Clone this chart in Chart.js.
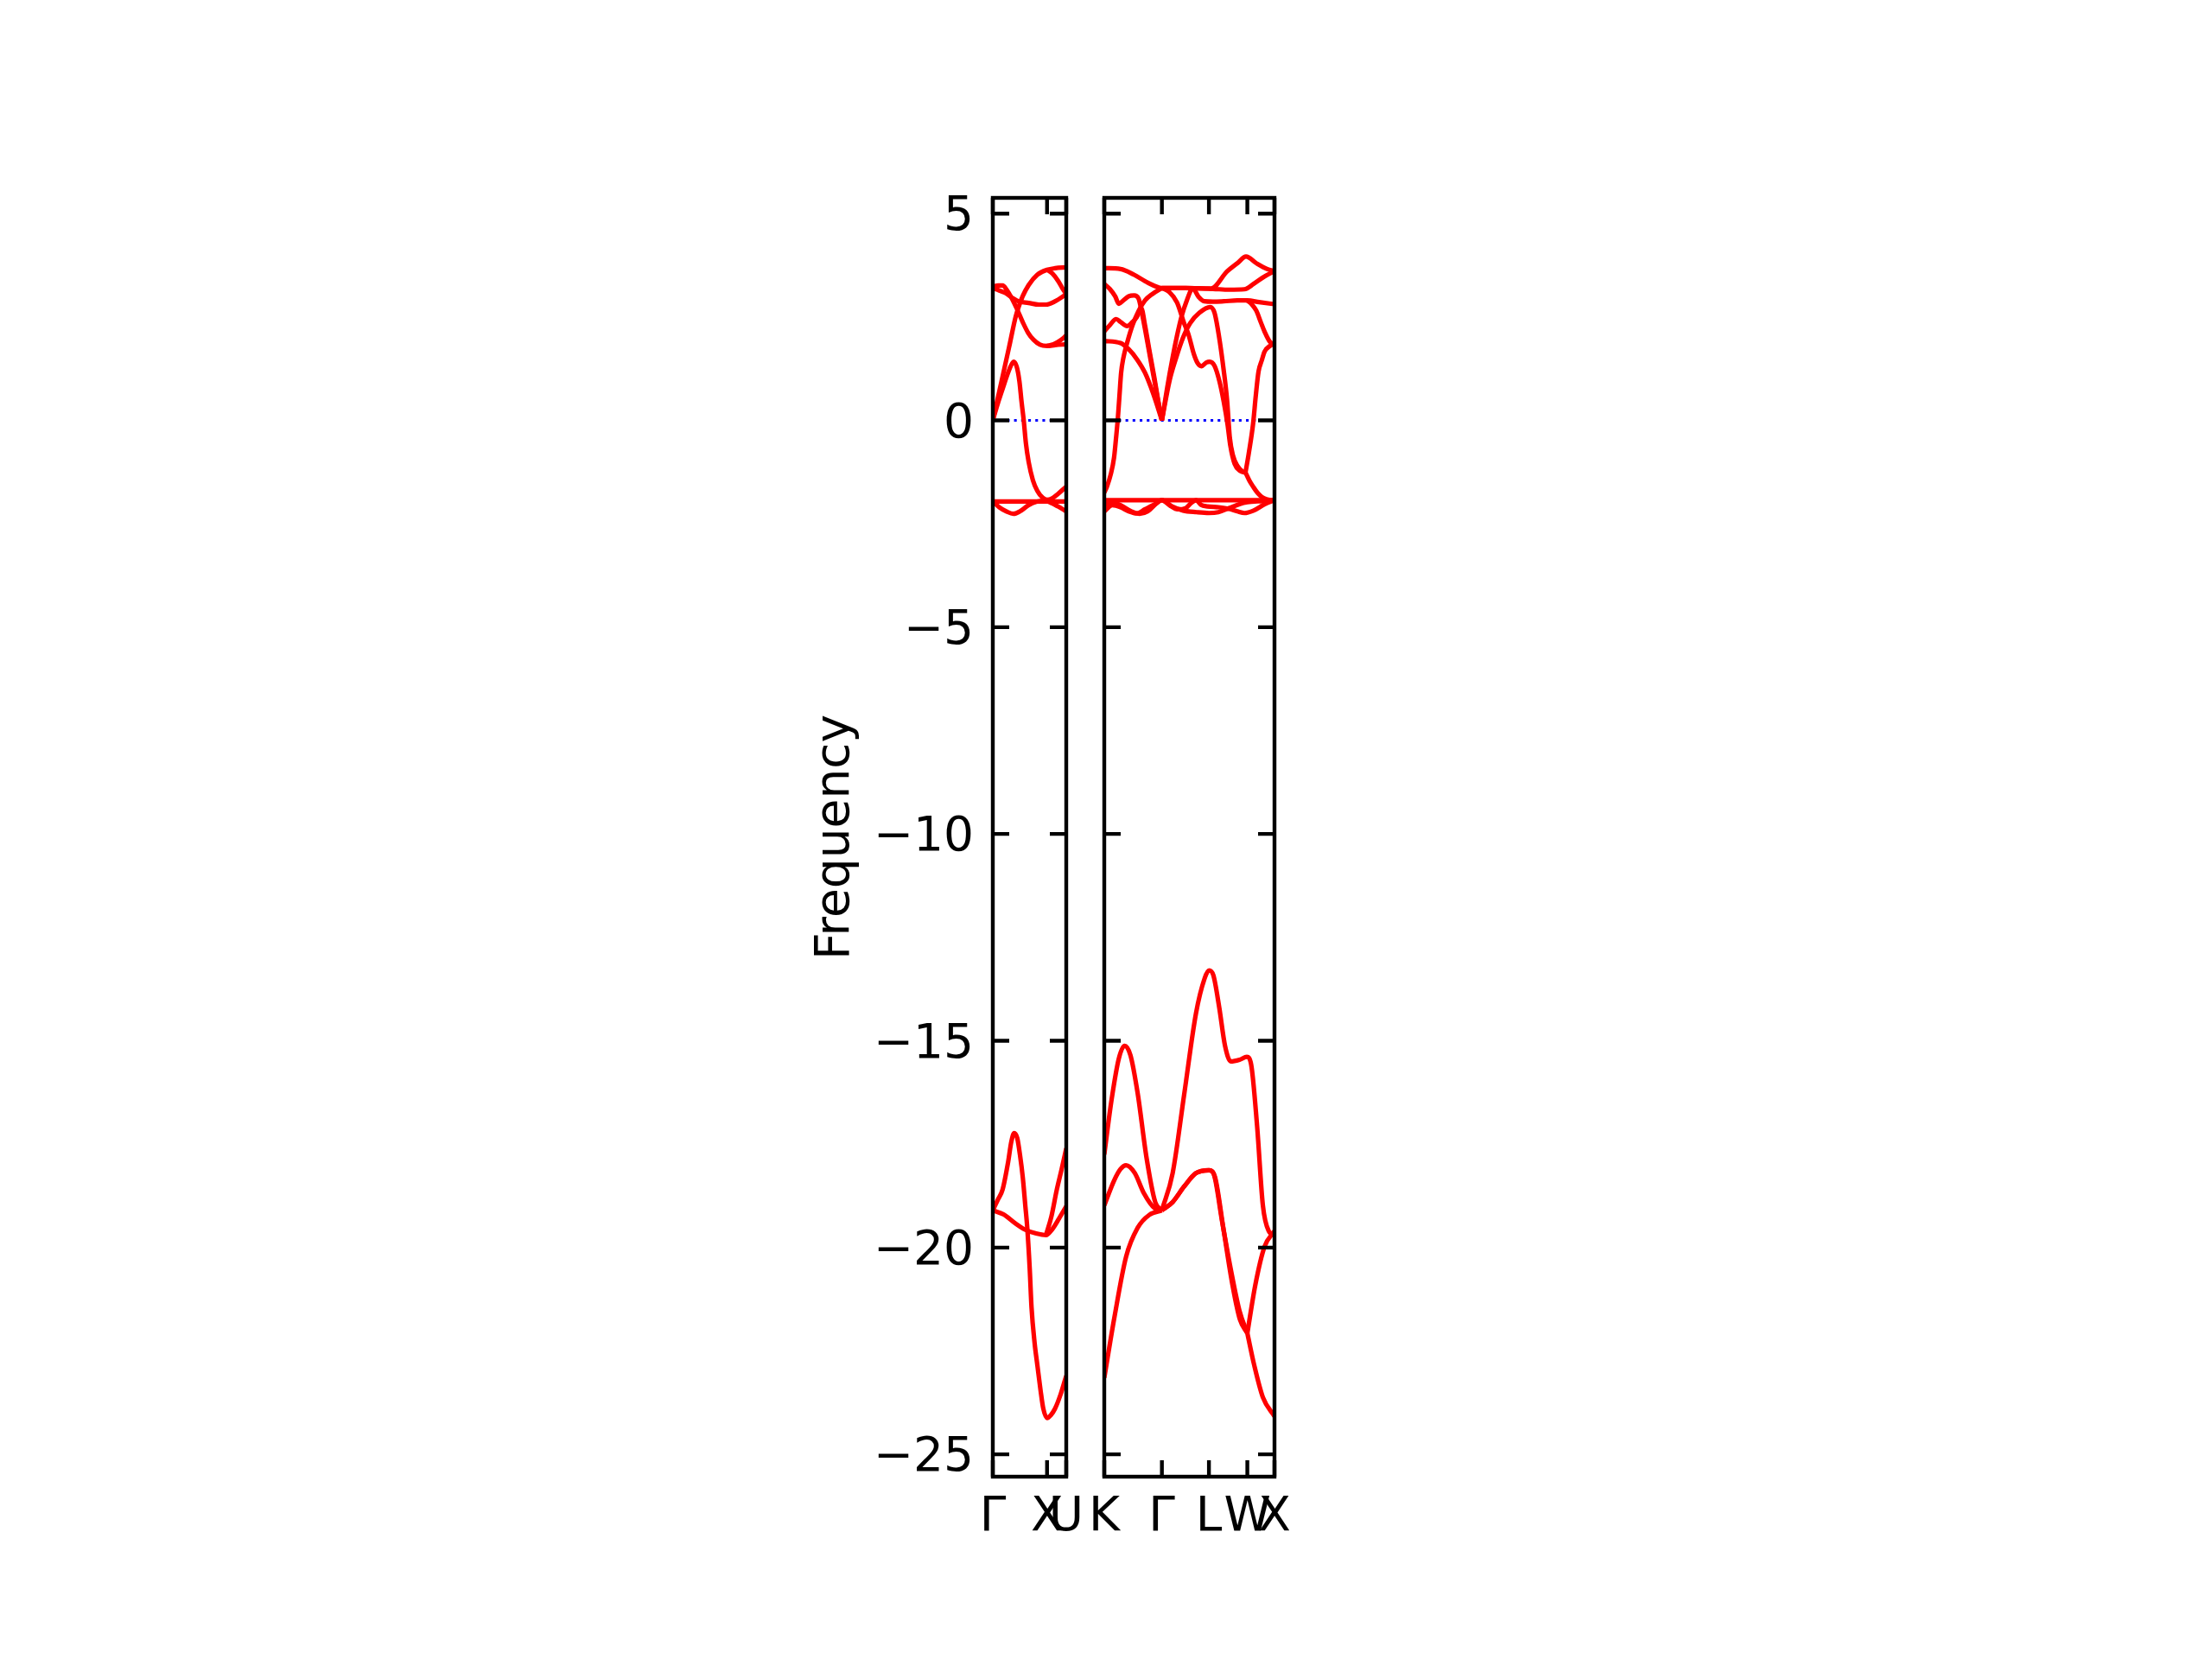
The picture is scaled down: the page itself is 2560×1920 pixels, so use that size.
<!DOCTYPE html>
<html>
<head>
<meta charset="utf-8">
<script src="https://cdn.jsdelivr.net/npm/chart.js@4.4.1/dist/chart.umd.min.js"></script>
<style>
  body { margin: 0; background: #fff; }
  #wrap { position: relative; width: 2560px; height: 1920px; }
  #wrap canvas { position: absolute; left: 0; top: 0; }
</style>
</head>
<body>
<div id="wrap">
  <canvas id="leftPanel" width="2560" height="1920"></canvas>
  <canvas id="rightPanel" width="2560" height="1920"></canvas>
</div>
<script>
// --- axis data ---
const yTicks = [-25, -20, -15, -10, -5, 0, 5];
const yMin = -25.54;
const yMax = 5.38;

const leftPath = [0, 1.0, 1.354];
const leftLabels = ['Γ', 'X', 'U'];
const rightPath = [0, 1.061, 1.927, 2.634, 3.134];
const rightLabels = ['K', 'Γ', 'L', 'W', 'X'];

// --- bands, Γ-X-U panel: [q, frequency] ---
const leftTop1 = [[0,3.23],[0.1,3.26],[0.18,3.26],[0.26,3.15],[0.35,2.95],[0.45,2.68],[0.55,2.38],[0.65,2.12],[0.75,1.95],[0.87,1.83],[1.0,1.8],[1.15,1.82],[1.354,1.84]];
const leftTop2 = [[0,3.2],[0.12,3.14],[0.23,3.08],[0.35,2.97],[0.47,2.88],[0.66,2.84],[0.85,2.8],[0.98,2.8],[1.15,2.88],[1.354,3.05]];
const leftTop3 = [[0,0],[0.15,0.88],[0.3,1.77],[0.42,2.5],[0.47,2.72],[0.55,3.0],[0.66,3.27],[0.82,3.52],[1.0,3.64],[1.15,3.68],[1.354,3.7]];
const leftTop4 = [[1.0,3.64],[1.1,3.55],[1.2,3.38],[1.28,3.2],[1.354,3.05]];
const leftTop5 = [[1.0,1.8],[1.12,1.84],[1.24,1.93],[1.354,2.05]];
const leftMid = [[0,0],[0.09,0.4],[0.18,0.76],[0.31,1.25],[0.385,1.42],[0.44,1.3],[0.49,0.95],[0.53,0.45],[0.57,0],[0.61,-0.55],[0.66,-1.0],[0.74,-1.45],[0.82,-1.7],[0.92,-1.87],[1.0,-1.92],[1.1,-1.88],[1.2,-1.78],[1.354,-1.6]];
const leftLow1 = [[0,-1.96],[0.12,-2.1],[0.25,-2.2],[0.38,-2.26],[0.5,-2.2],[0.65,-2.06],[0.8,-1.97],[0.95,-1.94],[1.05,-1.98],[1.2,-2.08],[1.354,-2.2]];
const leftLow2 = [[0,-1.96],[0.7,-1.96],[1.354,-1.96]];
const leftBot1 = [[0,-19.1],[0.09,-18.85],[0.18,-18.6],[0.28,-17.95],[0.34,-17.45],[0.395,-17.23],[0.45,-17.35],[0.5,-17.75],[0.554,-18.32],[0.6,-19.0],[0.634,-19.5],[0.68,-20.5],[0.714,-21.45],[0.77,-22.3],[0.822,-22.85],[0.88,-23.45],[0.93,-23.89],[1.0,-24.12],[1.07,-24.05],[1.145,-23.9],[1.25,-23.55],[1.354,-23.1]];
const leftBot2 = [[0,-19.1],[0.2,-19.2],[0.4,-19.4],[0.6,-19.57],[0.8,-19.66],[0.98,-19.7],[1.1,-19.55],[1.22,-19.3],[1.354,-19.0]];
const leftBot3 = [[0.98,-19.7],[1.08,-19.25],[1.18,-18.6],[1.27,-18.1],[1.354,-17.6]];

// --- bands, K-Γ-L-W-X panel ---
const rightTop1 = [[0,3.68],[0.3,3.66],[0.55,3.52],[0.8,3.33],[1.061,3.2],[1.5,3.2],[1.97,3.19],[2.26,3.6],[2.45,3.8],[2.61,3.96],[2.8,3.8],[3.0,3.66],[3.134,3.61]];
const rightTop2 = [[1.061,3.2],[1.5,3.2],[2.0,3.18],[2.3,3.16],[2.58,3.17],[2.75,3.3],[2.95,3.48],[3.134,3.61]];
const rightTop3 = [[1.061,0],[1.16,0.8],[1.26,1.53],[1.34,2.05],[1.42,2.5],[1.52,2.9],[1.63,3.19],[1.735,2.99],[1.84,2.88],[2.0,2.87],[2.2,2.88],[2.45,2.9],[2.634,2.9],[2.85,2.86],[3.134,2.81]];
const rightTop4 = [[2.634,2.9],[2.72,2.8],[2.8,2.65],[2.88,2.38],[2.95,2.15],[3.05,1.9],[3.134,1.84]];
const rightTop5 = [[0,3.3],[0.1,3.18],[0.2,3.0],[0.27,2.82],[0.35,2.9],[0.45,3.0],[0.55,3.02],[0.63,2.95],[0.7,2.55],[0.8,1.85],[0.9,1.12],[0.98,0.55],[1.061,0]];
const rightTop6 = [[0,2.15],[0.1,2.3],[0.22,2.45],[0.3,2.38],[0.42,2.28],[0.52,2.38],[0.6,2.5],[0.68,2.72],[0.75,2.3],[0.83,1.7],[0.92,1.05],[0.99,0.5],[1.061,0]];
const rightTop7 = [[0,1.92],[0.3,1.87],[0.45,1.72],[0.6,1.48],[0.75,1.15],[0.9,0.65],[1.061,0]];
const rightTop8 = [[0,-1.75],[0.05,-1.6],[0.12,-1.3],[0.18,-0.9],[0.215,-0.45],[0.25,0.05],[0.28,0.6],[0.31,1.15],[0.35,1.5],[0.42,1.87],[0.52,2.3],[0.63,2.64],[0.75,2.9],[0.89,3.06],[1.061,3.2]];
const rightMid1 = [[1.061,0],[1.2,0.95],[1.32,1.5],[1.45,2.0],[1.58,2.35],[1.75,2.6],[1.95,2.74],[2.03,2.6],[2.11,2.05],[2.2,1.2],[2.26,0.5],[2.31,-0.4],[2.37,-0.85],[2.45,-1.1],[2.55,-1.24],[2.6,-1.26]];
const rightMid2 = [[1.061,3.2],[1.2,3.1],[1.34,2.85],[1.47,2.35],[1.55,2.08],[1.65,1.6],[1.72,1.38],[1.79,1.31],[1.88,1.4],[1.94,1.42],[2.03,1.32],[2.12,0.95],[2.2,0.45],[2.27,-0.1],[2.32,-0.6],[2.4,-1.05],[2.5,-1.22],[2.6,-1.26]];
const rightMid3 = [[2.6,-1.26],[2.66,-0.8],[2.74,-0.08],[2.79,0.6],[2.84,1.18],[2.9,1.45],[2.95,1.66],[3.05,1.8],[3.134,1.85]];
const rightMid4 = [[2.6,-1.26],[2.67,-1.45],[2.74,-1.6],[2.82,-1.75],[2.9,-1.85],[3.0,-1.91],[3.134,-1.95]];
const rightLow1 = [[0,-1.93],[1.061,-1.93],[2.0,-1.93],[3.134,-1.93]];
const rightLow2 = [[0,-2.2],[0.15,-2.05],[0.3,-2.1],[0.45,-2.2],[0.6,-2.25],[0.75,-2.15],[0.9,-2.05],[1.061,-1.93],[1.2,-2.05],[1.35,-2.15],[1.5,-2.12],[1.6,-2.0],[1.69,-1.93],[1.78,-2.04],[1.9,-2.08],[2.1,-2.1],[2.3,-2.14],[2.45,-2.2],[2.58,-2.24],[2.75,-2.18],[2.95,-2.03],[3.134,-1.93]];
const rightLow3 = [[0,-2.05],[0.15,-1.98],[0.3,-2.05],[0.5,-2.2],[0.65,-2.26],[0.8,-2.2],[0.95,-2.02],[1.061,-1.93],[1.25,-2.08],[1.45,-2.18],[1.7,-2.22],[1.927,-2.24],[2.1,-2.22],[2.3,-2.12],[2.5,-2.02],[2.634,-1.98],[2.9,-1.95],[3.134,-1.93]];
const rightBot1 = [[0,-17.75],[0.134,-16.43],[0.268,-15.43],[0.375,-15.12],[0.482,-15.35],[0.616,-16.28],[0.777,-17.82],[0.938,-18.9],[1.061,-19.1]];
const rightBot2 = [[0,-18.98],[0.1875,-18.36],[0.3,-18.1],[0.402,-18.01],[0.5625,-18.2],[0.723,-18.67],[0.9375,-19.06],[1.061,-19.1]];
const rightBot3 = [[0,-23.15],[0.1875,-21.68],[0.402,-20.22],[0.616,-19.52],[0.83,-19.21],[1.061,-19.1]];
const rightBot4 = [[1.061,-19.1],[1.259,-18.2],[1.473,-16.28],[1.688,-14.34],[1.848,-13.49],[1.929,-13.3],[2.009,-13.42],[2.116,-14.19],[2.223,-15.12],[2.33,-15.5],[2.49,-15.46],[2.625,-15.39],[2.705,-15.58],[2.813,-17.05],[2.92,-18.98],[3.027,-19.6],[3.134,-19.7]];
const rightBot5 = [[1.061,-19.1],[1.259,-18.9],[1.473,-18.52],[1.688,-18.2],[1.929,-18.13],[2.009,-18.2],[2.17,-19.37],[2.33,-20.53],[2.49,-21.53],[2.634,-22.07]];
const rightBot6 = [[1.061,-19.1],[1.259,-18.9],[1.473,-18.52],[1.688,-18.2],[1.929,-18.13],[2.04,-18.3],[2.2,-19.6],[2.36,-20.9],[2.5,-21.75],[2.634,-22.07]];
const rightBot7 = [[2.634,-22.07],[2.76,-22.84],[2.92,-23.62],[3.134,-24.08]];
const rightBot8 = [[2.634,-22.07],[2.78,-20.91],[2.95,-19.98],[3.134,-19.6]];

const leftBands = [leftTop1, leftTop2, leftTop3, leftTop4, leftTop5, leftMid, leftLow1, leftLow2, leftBot1, leftBot2, leftBot3];
const rightBands = [rightTop1, rightTop2, rightTop3, rightTop4, rightTop5, rightTop6, rightTop7, rightTop8,
  rightMid1, rightMid2, rightMid3, rightMid4, rightLow1, rightLow2, rightLow3,
  rightBot1, rightBot2, rightBot3, rightBot4, rightBot5, rightBot6, rightBot7, rightBot8];

const FONT = '"DejaVu Sans", sans-serif';

// frame on all four sides + inward ticks (matplotlib style)
const frameTicks = {
  id: 'frameTicks',
  afterDatasetsDraw(chart) {
    const { ctx, chartArea: a, scales } = chart;
    const len = 19;
    ctx.save();
    ctx.strokeStyle = '#000';
    ctx.lineWidth = 4.4;
    ctx.beginPath();
    scales.x.ticks.forEach(t => {
      const px = scales.x.getPixelForValue(t.value);
      ctx.moveTo(px, a.bottom); ctx.lineTo(px, a.bottom - len);
      ctx.moveTo(px, a.top); ctx.lineTo(px, a.top + len);
    });
    yTicks.forEach(v => {
      const py = scales.y.getPixelForValue(v);
      ctx.moveTo(a.left, py); ctx.lineTo(a.left + len, py);
      ctx.moveTo(a.right, py); ctx.lineTo(a.right - len, py);
    });
    ctx.stroke();
    ctx.strokeRect(a.left, a.top, a.right - a.left, a.bottom - a.top);
    ctx.restore();
  }
};

function makePanel(id, path, labels, bands, pad, showY) {
  const xMax = path[path.length - 1];
  const datasets = bands.map(b => ({
    data: b.map(([x, y]) => ({ x, y })),
    borderColor: '#ff0000',
    borderWidth: 5.2,
    pointRadius: 0,
    showLine: true,
    fill: false,
    cubicInterpolationMode: 'monotone',
    order: 0
  }));
  datasets.push({
    data: [{ x: 0, y: 0 }, { x: xMax, y: 0 }],
    borderColor: '#0000ff',
    borderWidth: 3.1,
    borderDash: [3.1, 5.1],
    pointRadius: 0,
    showLine: true,
    order: 1
  });

  return new Chart(document.getElementById(id), {
    type: 'scatter',
    data: { datasets },
    plugins: [frameTicks],
    options: {
      responsive: false,
      animation: false,
      events: [],
      layout: { padding: pad },
      plugins: { legend: { display: false }, tooltip: { enabled: false } },
      scales: {
        x: {
          type: 'linear',
          min: 0,
          max: xMax,
          grid: { display: false, drawTicks: false },
          border: { display: false },
          afterBuildTicks: s => { s.ticks = path.map(v => ({ value: v })); },
          afterFit: s => { s.height = 100; },
          ticks: {
            autoSkip: false,
            maxRotation: 0,
            minRotation: 0,
            padding: 15,
            color: '#000',
            font: { family: FONT, size: 55 },
            callback: (v, i) => labels[i]
          }
        },
        y: {
          display: showY,
          min: yMin,
          max: yMax,
          grid: { display: false, drawTicks: false },
          border: { display: false },
          afterBuildTicks: s => { s.ticks = yTicks.map(v => ({ value: v })); },
          afterFit: s => { if (showY) s.width = 250; },
          title: {
            display: showY,
            text: 'Frequency',
            color: '#000',
            font: { family: FONT, size: 55 },
            padding: { top: 36, bottom: 0 }
          },
          ticks: {
            padding: 22,
            labelOffset: 5,
            color: '#000',
            font: { family: FONT, size: 55 },
            callback: v => (v < 0 ? '\u2212' + Math.abs(v) : String(v))
          }
        }
      }
    }
  });
}

makePanel('leftPanel', leftPath, leftLabels, leftBands,
  { left: 1149 - 250, right: 2560 - 1234, top: 229, bottom: 1920 - 1709 - 100 }, true);
makePanel('rightPanel', rightPath, rightLabels, rightBands,
  { left: 1278, right: 2560 - 1475, top: 229, bottom: 1920 - 1709 - 100 }, false);
</script>
</body>
</html>
